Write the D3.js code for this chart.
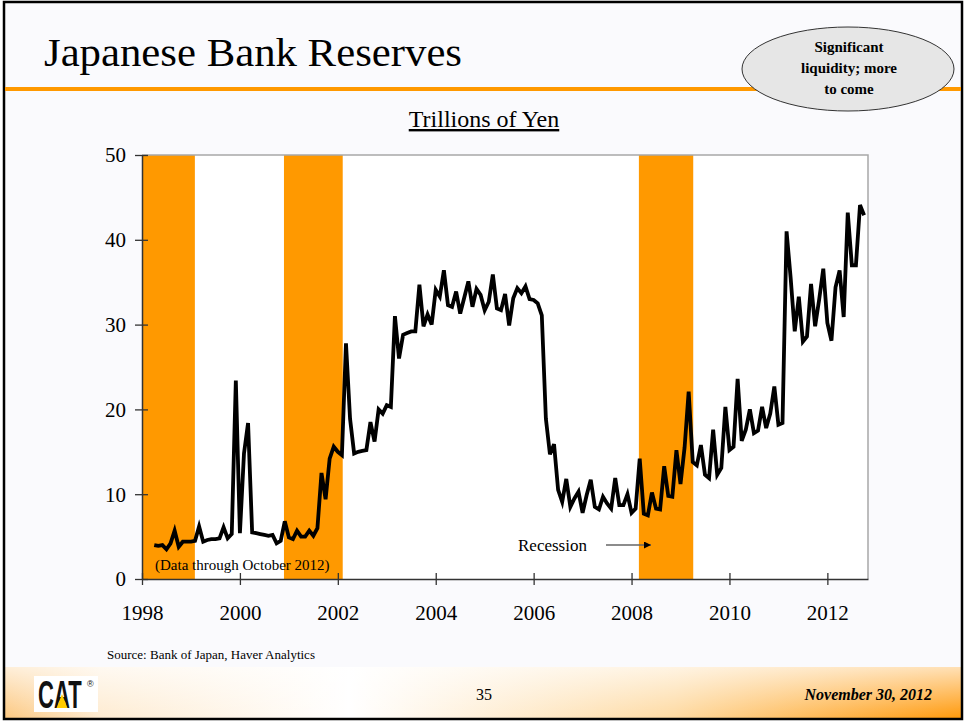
<!DOCTYPE html>
<html>
<head>
<meta charset="utf-8">
<script src="https://cdn.jsdelivr.net/npm/d3@7"></script>
<style>
  body { margin: 0; background: #ffffff; }
  svg { display: block; }
  svg text { font-family: "Liberation Serif", "Times New Roman", serif; }
</style>
</head>
<body>
<div id="chart"></div>
<script>
////////////////////////////////////////////////////////////////////////
// Data: monthly reserves, trillions of yen (Apr 1998 - Oct 2012)

let firstMonth = 4; // data for 1998 starts in April
let r1998 = [4.0, 3.9, 4.0, 3.5, 4.2, 5.7, 3.8, 4.4, 4.4];
let r1999 = [4.4, 4.5, 6.2, 4.4, 4.6, 4.7, 4.7, 4.8, 6.1, 4.8, 5.3, 23.4];
let r2000 = [5.4, 14.8, 18.4, 5.5, 5.4, 5.3, 5.2, 5.1, 5.2, 4.2, 4.5, 6.8];
let r2001 = [4.9, 4.7, 5.7, 5.0, 5.0, 5.7, 5.1, 6.0, 12.5, 9.4, 14.2, 15.6];
let r2002 = [15.0, 14.6, 27.8, 18.9, 14.8, 15.0, 15.1, 15.2, 18.5, 16.2, 20.0, 19.5];
let r2003 = [20.5, 20.3, 31.0, 26.0, 28.8, 29.0, 29.2, 29.2, 34.7, 29.8, 31.2, 30.0];
let r2004 = [34.1, 33.3, 36.4, 32.3, 32.1, 33.9, 31.3, 33.2, 35.1, 32.1, 34.2, 33.5];
let r2005 = [31.7, 32.7, 35.9, 31.9, 31.7, 33.6, 29.9, 33.1, 34.3, 33.7, 34.5, 33.0];
let r2006 = [32.9, 32.5, 31.1, 18.9, 14.7, 15.9, 10.5, 9.1, 11.8, 8.5, 9.5, 10.3];
let r2007 = [7.8, 9.9, 11.7, 8.5, 8.2, 9.7, 8.9, 8.3, 11.9, 8.7, 8.7, 10.0];
let r2008 = [7.8, 8.3, 14.2, 7.7, 7.5, 10.2, 8.3, 8.2, 13.3, 9.8, 9.7, 15.2];
let r2009 = [11.2, 15.5, 22.1, 13.8, 13.4, 15.8, 12.3, 11.9, 17.6, 12.3, 13.1, 20.3];
let r2010 = [15.2, 15.6, 23.6, 16.3, 17.6, 20.0, 17.2, 17.5, 20.3, 17.8, 19.5, 22.7];
let r2011 = [18.2, 18.4, 41.0, 35.5, 29.2, 33.3, 28.0, 28.6, 34.8, 29.8, 33.0, 36.6];
let r2012 = [30.2, 28.1, 34.4, 36.4, 30.9, 43.2, 37.0, 37.0, 44.1, 42.9];

let yearly = [r1998, r1999, r2000, r2001, r2002, r2003, r2004, r2005,
  r2006, r2007, r2008, r2009, r2010, r2011, r2012];

// recession periods, as fractional years
let recessionStart = [1998.0, 2000.9, 2008.15];
let recessionEnd = [1999.08, 2002.1, 2009.26];

let xTicks = [1998, 2000, 2002, 2004, 2006, 2008, 2010, 2012];
let yTicks = [0, 10, 20, 30, 40, 50];

// build a flat list of {t, v}
let data = [];
yearly.forEach(function(vals, i) {
  let year = 1998 + i;
  let m0 = (i === 0) ? firstMonth - 1 : 0;
  vals.forEach(function(v, j) {
    data.push({ t: year + (m0 + j) / 12, v: v });
  });
});

////////////////////////////////////////////////////////////////////////
// svg

let width = 966;
let height = 723;
let orange = "#FF9900";
let serif = "'Liberation Serif', 'Times New Roman', serif";

let svg = d3.select("#chart")
  .append("svg")
  .attr("width", width).attr("height", height);

let defs = svg.append("defs");

// footer gradients
let hg = defs.append("linearGradient").attr("id", "footH")
  .attr("x1", "0").attr("x2", "1").attr("y1", "0").attr("y2", "0");
hg.append("stop").attr("offset", "0").attr("stop-color", "#FCC77E");
hg.append("stop").attr("offset", "0.1").attr("stop-color", "#FEEBD0");
hg.append("stop").attr("offset", "0.36").attr("stop-color", "#FFFFFF");
hg.append("stop").attr("offset", "0.7").attr("stop-color", "#FED9A0");
hg.append("stop").attr("offset", "1").attr("stop-color", "#FF9808");

let vg = defs.append("linearGradient").attr("id", "footV")
  .attr("x1", "0").attr("x2", "0").attr("y1", "0").attr("y2", "1");
vg.append("stop").attr("offset", "0").attr("stop-color", "#FFFFFF").attr("stop-opacity", 0.7);
vg.append("stop").attr("offset", "1").attr("stop-color", "#FFFFFF").attr("stop-opacity", 0);

defs.append("marker").attr("id", "arrow")
  .attr("viewBox", "0 0 10 10").attr("refX", 10).attr("refY", 5)
  .attr("markerWidth", 9).attr("markerHeight", 7)
  .attr("markerUnits", "userSpaceOnUse")
  .attr("orient", "auto")
  .append("path").attr("d", "M0,0 L10,5 L0,10 Z").attr("fill", "#000");

// slide background
svg.append("rect")
  .attr("x", 4).attr("y", 2).attr("width", 958).attr("height", 717)
  .attr("fill", "#FAFAFD");

// footer band
svg.append("rect").attr("x", 4).attr("y", 667).attr("width", 958).attr("height", 52)
  .attr("fill", "url(#footH)");
svg.append("rect").attr("x", 4).attr("y", 667).attr("width", 958).attr("height", 52)
  .attr("fill", "url(#footV)");

// slide frame
svg.append("rect")
  .attr("x", 4).attr("y", 2).attr("width", 958).attr("height", 717)
  .attr("fill", "none").attr("stroke", "#000").attr("stroke-width", 2.5);

// title + orange rule
svg.append("text")
  .attr("x", 44).attr("y", 66)
  .style("font-family", serif)
  .attr("font-size", 39)
  .attr("textLength", 418).attr("lengthAdjust", "spacingAndGlyphs")
  .attr("fill", "#000")
  .text("Japanese Bank Reserves");

svg.append("rect")
  .attr("x", 5).attr("y", 87).attr("width", 956).attr("height", 4)
  .attr("fill", orange);

// ellipse callout
svg.append("ellipse")
  .attr("cx", 848).attr("cy", 69).attr("rx", 106).attr("ry", 42)
  .attr("fill", "#E6E6E6").attr("stroke", "#333").attr("stroke-width", 1);

let callout = ["Significant", "liquidity; more", "to come"];
svg.append("g").selectAll("text")
  .data(callout).enter()
  .append("text")
  .attr("x", 849)
  .attr("y", function(d, i) { return 52 + i * 21; })
  .attr("text-anchor", "middle")
  .style("font-family", serif)
  .attr("font-size", 15).attr("font-weight", "bold")
  .text(function(d) { return d; });

// chart subtitle
svg.append("text")
  .attr("x", 484).attr("y", 127)
  .attr("text-anchor", "middle")
  .style("font-family", serif)
  .attr("font-size", 24)
  .attr("text-decoration", "underline")
  .text("Trillions of Yen");

////////////////////////////////////////////////////////////////////////
// scales

let plotLeft = 142, plotRight = 868, plotTop = 155, plotBottom = 579;

let x = d3.scaleLinear()
  .domain([1998, 2012.83])
  .range([plotLeft, plotRight]);

let y = d3.scaleLinear()
  .domain([0, 50])
  .range([plotBottom, plotTop]);

// plot area
svg.append("rect")
  .attr("x", plotLeft).attr("y", plotTop)
  .attr("width", plotRight - plotLeft).attr("height", plotBottom - plotTop)
  .attr("fill", "#FFFFFF");

// recession bands
svg.append("g").selectAll("rect")
  .data(recessionStart).enter()
  .append("rect")
  .attr("x", function(d) { return x(d); })
  .attr("y", plotTop)
  .attr("width", function(d, i) { return x(recessionEnd[i]) - x(d); })
  .attr("height", plotBottom - plotTop)
  .attr("fill", orange);

// top and right frame
svg.append("path")
  .attr("d", "M" + plotLeft + "," + plotTop + "H" + plotRight + "V" + plotBottom)
  .attr("fill", "none").attr("stroke", "#A8A8A8").attr("stroke-width", 1.5);

// axes
let yAxis = d3.axisLeft(y).tickValues(yTicks).tickSizeInner(7).tickSizeOuter(0).tickPadding(9);
let xAxis = d3.axisBottom(x).tickValues(xTicks).tickFormat(d3.format("d"))
  .tickSizeInner(6).tickSizeOuter(0).tickPadding(20);

let gy = svg.append("g")
  .attr("transform", "translate(" + plotLeft + ",0)")
  .call(yAxis);
let gx = svg.append("g")
  .attr("transform", "translate(0," + plotBottom + ")")
  .call(xAxis);

[gx, gy].forEach(function(g) {
  g.attr("font-family", null);
  g.select(".domain").attr("stroke", "#333").attr("stroke-width", 1.5);
  g.selectAll(".tick line").attr("stroke", "#333").attr("stroke-width", 1.3);
  g.selectAll(".tick text")
    .style("font-family", serif)
    .attr("font-size", 21).attr("fill", "#000");
});
// ticks cross the axis lines
gy.selectAll(".tick line").attr("x1", 6);
gx.selectAll(".tick line").attr("y1", -6);
gy.selectAll(".tick text").attr("dy", "0.33em");

// the series
let line = d3.line()
  .x(function(d) { return x(d.t); })
  .y(function(d) { return y(d.v); });

svg.append("path")
  .datum(data)
  .attr("d", line)
  .attr("fill", "none")
  .attr("stroke", "#000")
  .attr("stroke-width", 3.8)
  .attr("stroke-linejoin", "miter");

// annotations
svg.append("text")
  .attr("x", 155).attr("y", 570)
  .style("font-family", serif)
  .attr("font-size", 15)
  .text("(Data through October 2012)");

svg.append("text")
  .attr("x", 518).attr("y", 551)
  .style("font-family", serif)
  .attr("font-size", 17)
  .text("Recession");

svg.append("line")
  .attr("x1", 606).attr("y1", 545).attr("x2", 651).attr("y2", 545)
  .attr("stroke", "#666").attr("stroke-width", 1.3)
  .attr("marker-end", "url(#arrow)");

// footer
svg.append("text")
  .attr("x", 107).attr("y", 659)
  .style("font-family", serif)
  .attr("font-size", 13)
  .text("Source: Bank of Japan, Haver Analytics");

svg.append("text")
  .attr("x", 484).attr("y", 700)
  .attr("text-anchor", "middle")
  .style("font-family", serif)
  .attr("font-size", 16)
  .text("35");

svg.append("text")
  .attr("x", 932).attr("y", 700)
  .attr("text-anchor", "end")
  .style("font-family", serif)
  .attr("font-size", 16).attr("font-weight", "bold").attr("font-style", "italic")
  .text("November 30, 2012");

// CAT logo (condensed with a transform so its box stays tight)
let logo = svg.append("g").attr("transform", "translate(34,676)");
logo.append("rect").attr("x", 0).attr("y", 0).attr("width", 64).attr("height", 36).attr("fill", "#FFFFFF");
logo.append("text")
  .attr("transform", "translate(4,32) scale(0.58,1)")
  .style("font-family", "'Liberation Sans', Arial, sans-serif")
  .attr("font-weight", "bold").attr("font-size", 38)
  .attr("fill", "#111")
  .text("CAT");
logo.append("path")
  .attr("d", "M22.5,32 L28,18 L33.5,32 Z")
  .attr("fill", "#FFCC00");
logo.append("text")
  .attr("x", 53).attr("y", 11)
  .style("font-family", "'Liberation Sans', Arial, sans-serif")
  .attr("font-size", 9).attr("fill", "#111")
  .text("\u00AE");
</script>
</body>
</html>
